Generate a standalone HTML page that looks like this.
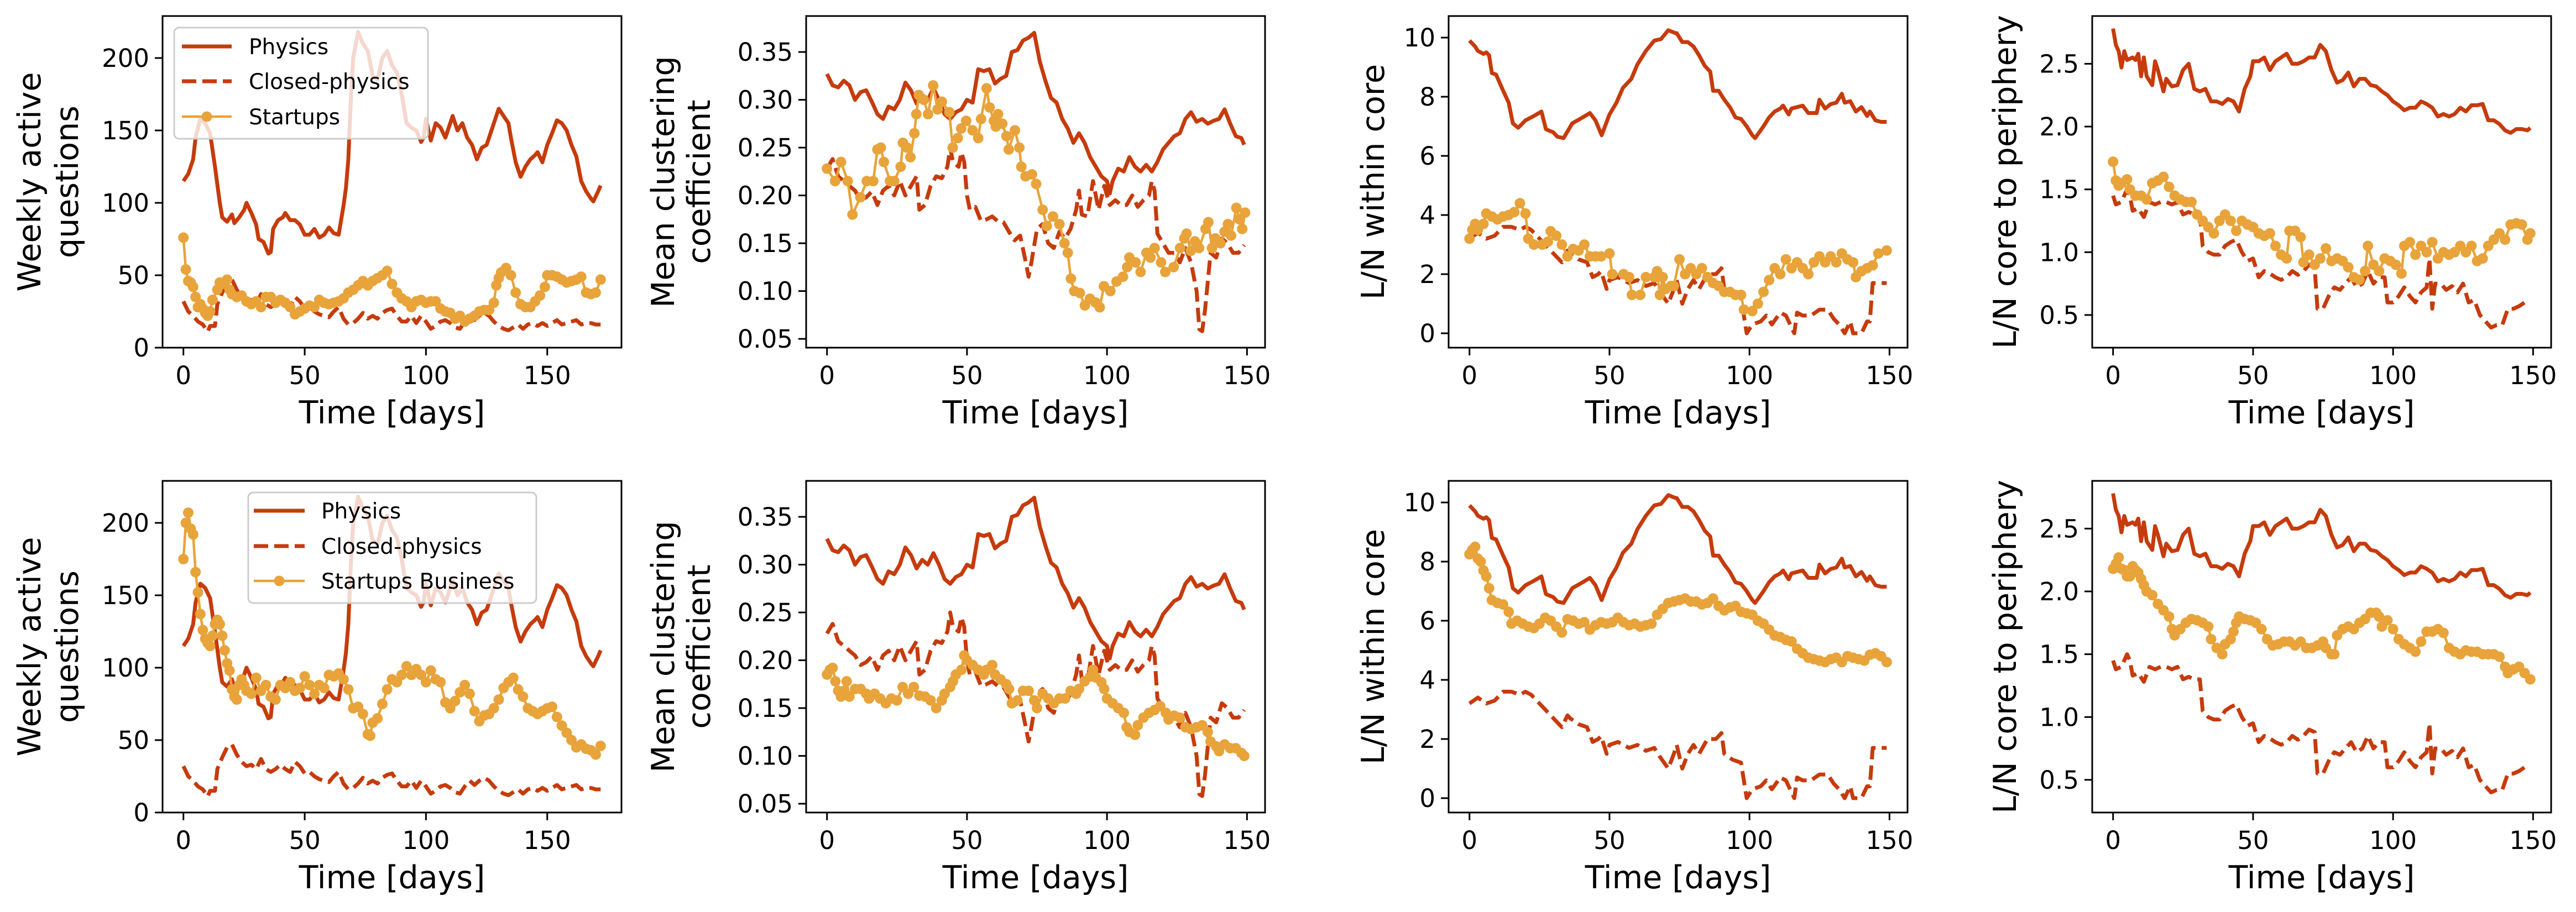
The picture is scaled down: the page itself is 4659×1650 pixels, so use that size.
<!DOCTYPE html>
<html><head><meta charset="utf-8"><title>Community metrics</title>
<style>
html,body{margin:0;padding:0;background:#fff;}
svg{display:block;}
text{font-family:"DejaVu Sans","Liberation Sans",sans-serif;fill:#000;}
</style></head>
<body>
<svg id="fig" width="4659" height="1650" viewBox="0 0 4659 1650" xmlns="http://www.w3.org/2000/svg"></svg>
<script>
// ---------- data: [day, value] pairs ----------
const qPhysics = [[0,115],[2,120],[4,130],[5,145],[7,158],[9,155],[11,148],[13,125],[15,100],[16,90],[18,87],[20,92],[21,86],[23,90],[25,95],[26,100],[28,93],[30,85],[31,75],[33,73],[35,65],[36,66],[37,82],[39,88],[41,90],[42,93],[44,88],[46,88],[48,85],[50,78],[52,78],[54,82],[56,76],[58,78],[60,83],[62,79],[64,78],[66,98],[67,110],[68,130],[69,170],[70,200],[72,218],[74,210],[76,205],[78,188],[80,185],[82,200],[84,205],[86,195],[88,190],[90,175],[92,155],[94,152],[96,150],[98,142],[99,145],[100,158],[102,143],[104,155],[106,152],[108,145],[110,155],[111,160],[113,150],[115,155],[117,145],[119,140],[121,130],[123,138],[125,140],[127,150],[129,160],[130,165],[132,160],[134,155],[135,145],[137,128],[139,118],[141,125],[143,130],[145,133],[146,135],[148,128],[150,140],[152,148],[154,157],[156,155],[158,150],[160,140],[162,132],[164,115],[166,108],[168,103],[169,101],[171,108],[172,112]];
const qClosed = [[0,32],[2,25],[4,22],[6,18],[8,16],[10,11],[11,15],[13,15],[14,30],[16,38],[18,45],[20,47],[22,40],[24,35],[26,32],[28,33],[30,30],[32,37],[34,30],[36,28],[38,30],[40,33],[42,30],[44,28],[46,35],[48,32],[50,27],[52,28],[54,25],[56,23],[58,22],[60,21],[62,25],[64,28],[66,20],[68,16],[70,17],[72,20],[74,24],[76,20],[78,22],[80,20],[82,24],[84,26],[86,27],[88,22],[90,18],[92,18],[94,22],[96,17],[98,22],[100,18],[102,13],[104,15],[106,18],[108,19],[110,17],[112,14],[114,13],[116,18],[118,22],[120,19],[122,22],[124,24],[126,22],[128,18],[130,15],[132,13],[134,12],[136,14],[138,16],[140,13],[142,16],[144,17],[146,15],[148,17],[150,15],[152,17],[154,19],[156,16],[158,17],[160,18],[162,19],[164,16],[166,17],[168,17],[170,16],[172,16]];
const qStartups = [[0,76],[1,54],[2,46],[3,45],[4,42],[5,35],[6,28],[7,30],[8,27],[9,24],[10,22],[11,25],[12,33],[14,40],[15,45],[16,44],[18,47],[19,40],[20,37],[22,35],[24,36],[26,32],[28,30],[30,32],[32,28],[34,35],[36,35],[38,31],[40,33],[42,31],[44,28],[46,23],[48,25],[50,27],[52,29],[54,28],[56,33],[58,31],[60,30],[62,31],[64,32],[66,34],[68,38],[70,40],[72,43],[74,46],[76,43],[78,46],[80,48],[82,50],[84,53],[86,44],[88,38],[90,34],[92,32],[94,28],[96,32],[98,33],[100,31],[102,32],[104,32],[106,27],[108,25],[110,24],[112,20],[114,22],[116,18],[118,20],[120,22],[122,25],[124,26],[126,26],[128,31],[129,43],[130,48],[131,52],[133,55],[135,50],[137,38],[139,30],[141,28],[143,28],[145,32],[147,36],[149,42],[150,50],[152,50],[154,49],[156,47],[158,45],[160,46],[162,47],[164,49],[166,38],[168,37],[170,38],[172,47]];
const qBusiness = [[0,175],[1,200],[2,207],[3,196],[4,192],[5,166],[6,152],[7,137],[8,126],[9,120],[10,117],[11,115],[12,122],[13,130],[14,133],[15,130],[16,122],[17,112],[18,103],[19,98],[20,85],[21,80],[22,78],[23,88],[24,92],[25,88],[26,84],[28,82],[30,93],[32,84],[34,88],[36,80],[38,78],[40,88],[42,86],[44,90],[46,84],[48,86],[50,94],[52,88],[54,82],[56,88],[58,86],[60,95],[62,94],[64,96],[66,92],[68,85],[70,72],[72,73],[74,68],[76,54],[77,53],[78,62],[80,65],[82,75],[84,85],[86,92],[88,90],[90,95],[92,101],[94,95],[96,99],[98,95],[100,90],[102,98],[104,92],[106,90],[108,76],[110,72],[112,77],[114,83],[116,88],[118,82],[120,70],[122,63],[124,67],[126,68],[128,72],[130,78],[132,86],[134,90],[136,93],[138,85],[140,80],[142,72],[144,70],[146,68],[148,70],[150,72],[152,73],[154,66],[156,60],[158,55],[160,50],[162,45],[164,47],[166,44],[168,43],[170,40],[172,46]];

const cPhysics = [[0,0.327],[2,0.315],[4,0.313],[6,0.32],[8,0.315],[10,0.30],[12,0.308],[14,0.31],[16,0.298],[18,0.285],[20,0.28],[22,0.293],[24,0.29],[26,0.30],[28,0.318],[30,0.31],[32,0.296],[34,0.305],[36,0.30],[38,0.312],[40,0.30],[42,0.285],[44,0.28],[46,0.287],[48,0.29],[50,0.30],[52,0.297],[54,0.332],[56,0.33],[58,0.332],[60,0.317],[62,0.322],[64,0.325],[66,0.35],[68,0.352],[70,0.362],[72,0.365],[74,0.37],[76,0.34],[78,0.32],[80,0.302],[82,0.297],[84,0.28],[86,0.27],[88,0.255],[90,0.265],[92,0.255],[94,0.24],[96,0.23],[98,0.22],[100,0.215],[101,0.202],[102,0.215],[104,0.228],[106,0.225],[108,0.24],[110,0.23],[112,0.225],[114,0.232],[116,0.225],[118,0.235],[120,0.248],[122,0.255],[124,0.262],[126,0.265],[128,0.28],[130,0.287],[132,0.277],[134,0.28],[136,0.275],[138,0.278],[140,0.28],[142,0.29],[144,0.275],[146,0.262],[148,0.26],[149,0.253]];
const cClosed = [[0,0.228],[2,0.238],[4,0.22],[6,0.215],[8,0.21],[10,0.205],[12,0.195],[14,0.198],[16,0.204],[18,0.19],[20,0.205],[22,0.21],[24,0.20],[26,0.215],[28,0.20],[30,0.21],[32,0.22],[33,0.185],[35,0.19],[37,0.21],[39,0.22],[41,0.218],[43,0.23],[44,0.25],[45,0.235],[47,0.23],[48,0.245],[49,0.235],[50,0.20],[51,0.185],[53,0.188],[55,0.173],[57,0.175],[59,0.178],[61,0.173],[63,0.172],[65,0.162],[67,0.153],[69,0.158],[71,0.13],[72,0.115],[73,0.13],[75,0.165],[77,0.17],[79,0.15],[81,0.145],[83,0.162],[85,0.155],[87,0.165],[89,0.185],[90,0.205],[91,0.18],[93,0.178],[95,0.215],[97,0.185],[99,0.21],[101,0.19],[103,0.195],[105,0.19],[107,0.19],[109,0.2],[111,0.188],[113,0.195],[115,0.2],[116,0.215],[117,0.205],[118,0.16],[120,0.15],[122,0.14],[124,0.14],[126,0.13],[128,0.145],[130,0.13],[132,0.1],[133,0.06],[134,0.058],[135,0.08],[137,0.14],[139,0.135],[141,0.155],[143,0.15],[145,0.14],[147,0.14],[149,0.148]];
const cStartups = [[0,0.228],[2.9,0.215],[5,0.235],[7.4,0.215],[9.1,0.18],[11.9,0.198],[14.2,0.215],[16.5,0.215],[18,0.248],[19.2,0.25],[20.3,0.235],[22.5,0.215],[24,0.215],[26.3,0.23],[27.1,0.255],[28.6,0.25],[29.8,0.24],[31.2,0.265],[31.9,0.285],[32.8,0.305],[34.6,0.30],[36.1,0.285],[37.9,0.315],[39.5,0.29],[41,0.298],[43.7,0.287],[44.9,0.25],[46.7,0.26],[47.9,0.27],[49.7,0.278],[52,0.268],[54,0.26],[55,0.28],[57,0.312],[58.1,0.292],[59.6,0.278],[60.3,0.272],[61.1,0.285],[62.6,0.275],[64.1,0.262],[64.9,0.248],[67.1,0.268],[68.7,0.25],[69.4,0.23],[70.9,0.22],[73.2,0.222],[74.7,0.212],[77,0.185],[78.5,0.168],[80.7,0.178],[83,0.17],[84.8,0.15],[86,0.14],[87.1,0.113],[88.3,0.10],[90.3,0.098],[92.1,0.085],[93.9,0.092],[95.9,0.088],[97.4,0.083],[98.9,0.105],[101.2,0.10],[103.4,0.11],[105.7,0.115],[107.2,0.125],[108,0.135],[110.2,0.13],[112,0.12],[114.1,0.14],[115.5,0.135],[117,0.145],[119.3,0.13],[120.8,0.12],[123.8,0.125],[126.1,0.145],[127.6,0.155],[128.4,0.16],[129.9,0.142],[131.4,0.152],[132.9,0.145],[135.2,0.165],[136.2,0.172],[137.5,0.145],[138.7,0.155],[140.5,0.15],[142,0.162],[143.2,0.17],[144.3,0.158],[146.2,0.187],[147.3,0.175],[148.3,0.165],[149.3,0.182]];
const cBusiness = [[0,0.185],[1,0.19],[2,0.192],[3,0.178],[4,0.168],[5,0.162],[6,0.168],[7,0.178],[8,0.162],[10,0.17],[12,0.17],[14,0.165],[15,0.16],[17,0.165],[19,0.16],[21,0.155],[23,0.16],[25,0.158],[27,0.172],[29,0.165],[31,0.172],[33,0.163],[35,0.162],[37,0.158],[39,0.15],[41,0.158],[42,0.165],[44,0.172],[45,0.178],[46,0.185],[48,0.19],[49,0.205],[50,0.2],[52,0.195],[54,0.19],[56,0.185],[57,0.19],[59,0.195],[60,0.185],[62,0.18],[64,0.175],[65,0.17],[66,0.155],[68,0.158],[70,0.168],[72,0.168],[74,0.158],[75,0.15],[77,0.165],[79,0.16],[81,0.155],[83,0.16],[85,0.16],[87,0.168],[89,0.165],[90,0.17],[92,0.178],[94,0.183],[95,0.19],[96,0.182],[98,0.177],[99,0.17],[100,0.16],[102,0.155],[104,0.15],[106,0.145],[107,0.13],[108,0.125],[110,0.122],[111,0.132],[113,0.14],[115,0.145],[117,0.148],[119,0.152],[121,0.145],[122,0.138],[124,0.142],[126,0.14],[128,0.13],[130,0.128],[132,0.13],[134,0.132],[136,0.125],[137,0.115],[139,0.11],[140,0.105],[142,0.112],[144,0.108],[146,0.108],[148,0.103],[149,0.1]];

const kPhysics = [[0,9.9],[2,9.7],[3,9.55],[5,9.45],[6,9.5],[7,9.4],[8,8.8],[9.5,8.75],[11.8,8.25],[14,7.8],[15.5,7.1],[17.4,6.95],[20,7.2],[23,7.35],[25.7,7.5],[27.3,6.9],[29.9,6.8],[31.4,6.65],[33.6,6.6],[36.7,7.1],[40.4,7.3],[43,7.45],[45,7.2],[47.2,6.7],[50,7.4],[52.5,7.8],[54.8,8.3],[57.8,8.6],[60,9.1],[63,9.55],[66,9.9],[68.4,9.95],[71,10.25],[73.6,10.15],[74,10.15],[76,9.85],[78,9.85],[80,9.7],[82,9.4],[84,9.05],[86,8.85],[87,8.2],[89,8.2],[91,7.9],[93,7.65],[95,7.3],[97,7.25],[99,7.0],[101,6.7],[102,6.6],[105,7.0],[107,7.3],[109,7.5],[111,7.6],[112,7.7],[114,7.4],[115,7.6],[117,7.65],[119,7.7],[121,7.45],[124,7.45],[125,7.9],[127,7.6],[129,7.75],[131,7.8],[133,8.1],[134,7.8],[136,7.85],[138,7.5],[140,7.65],[141,7.5],[142,7.35],[143,7.5],[145,7.2],[147,7.15],[149,7.15]];
const kClosed = [[0,3.2],[3,3.4],[6,3.2],[9,3.3],[12,3.6],[15,3.6],[18,3.5],[20,3.6],[22,3.5],[24,3.3],[27,3.0],[30,2.7],[33,2.4],[35,2.8],[36,2.7],[39,2.5],[42,2.4],[44,1.9],[46,2.0],[47,2.1],[49,1.5],[50,1.8],[53,1.9],[57,1.7],[60,1.8],[63,1.6],[66,1.7],[68,1.4],[71,1.0],[73,1.5],[74,1.8],[76,1.0],[78,1.5],[80,1.8],[82,1.5],[85,2.0],[88,2.0],[90,2.2],[91,1.5],[94,1.3],[97,1.2],[98.5,0.3],[99,0.0],[101,0.3],[104,0.4],[106,0.6],[108,0.3],[111,0.7],[113,0.6],[116,0.0],[117,0.7],[119,0.6],[122,0.6],[125,0.8],[128,0.8],[130,0.5],[132,0.3],[134,0.0],[136,0.4],[137,0.0],[140,0.0],[142,0.4],[143,0.4],[144,1.7],[149,1.7]];
const kStartups = [[0,3.2],[1,3.5],[2,3.7],[3,3.5],[5,3.7],[6,4.05],[8,3.95],[10,3.85],[12,3.95],[14,4.0],[16,4.1],[18,4.4],[20,4.05],[21,3.2],[23,3.0],[26,3.0],[28,3.1],[29,3.45],[31,3.3],[33,3.0],[35,2.6],[37,2.85],[39,2.8],[41,3.0],[43,2.6],[45,2.6],[47,2.6],[50,2.7],[51,2.0],[55,2.0],[57,1.9],[58,1.3],[61,1.3],[63,1.9],[66,1.9],[67,2.1],[68,1.3],[69,1.9],[70,1.5],[72,1.6],[73,1.6],[75,2.5],[77,2.0],[79,2.2],[81,2.0],[83,2.2],[85,1.9],[87,1.7],[89,1.6],[91,1.4],[93,1.4],[95,1.3],[97,1.3],[98,0.8],[101,0.75],[103,1.0],[105,1.4],[107,1.8],[109,2.2],[111,2.0],[113,2.5],[115,2.2],[117,2.4],[119,2.2],[121,2.0],[123,2.4],[125,2.6],[127,2.4],[129,2.6],[131,2.4],[133,2.7],[135,2.5],[137,2.4],[138,1.9],[140,2.1],[142,2.2],[144,2.3],[146,2.7],[149,2.8]];
const kBusiness = [[0,8.25],[1,8.4],[2,8.5],[3,8.1],[4,8.0],[5,7.7],[6,7.5],[7,7.1],[8,6.7],[10,6.6],[12,6.55],[14,6.3],[15,5.9],[17,6.0],[19,5.9],[21,5.8],[23,5.75],[25,5.9],[27,6.1],[29,6.0],[31,5.8],[33,5.6],[35,6.05],[37,6.0],[39,5.9],[41,5.95],[43,5.7],[45,5.85],[47,5.95],[49,5.9],[51,5.95],[53,6.1],[55,5.95],[57,5.85],[59,5.9],[61,5.8],[63,5.85],[65,5.9],[67,6.2],[69,6.4],[71,6.6],[73,6.65],[75,6.7],[77,6.75],[79,6.65],[81,6.65],[83,6.55],[85,6.6],[87,6.75],[89,6.5],[91,6.35],[93,6.45],[95,6.5],[97,6.3],[99,6.25],[101,6.2],[103,6.0],[105,5.9],[107,5.7],[109,5.5],[111,5.45],[113,5.35],[115,5.3],[117,5.05],[119,4.9],[121,4.75],[123,4.7],[125,4.65],[127,4.6],[129,4.7],[131,4.75],[133,4.6],[135,4.8],[137,4.75],[139,4.7],[141,4.65],[143,4.85],[145,4.9],[147,4.8],[149,4.6]];

const pPhysics = [[0,2.78],[1,2.65],[2,2.6],[3,2.47],[4,2.6],[5,2.53],[7,2.55],[8,2.53],[9,2.58],[10,2.4],[11,2.55],[12,2.4],[14,2.33],[15,2.52],[16,2.45],[18,2.28],[19,2.38],[21,2.32],[23,2.33],[25,2.45],[27,2.5],[29,2.3],[31,2.28],[33,2.3],[35,2.2],[37,2.2],[39,2.18],[41,2.22],[43,2.2],[45,2.12],[47,2.3],[49,2.4],[50,2.52],[52,2.52],[54,2.55],[56,2.45],[58,2.52],[60,2.55],[62,2.58],[64,2.5],[66,2.5],[68,2.52],[70,2.55],[72,2.55],[74,2.65],[76,2.6],[78,2.45],[80,2.35],[82,2.37],[84,2.43],[86,2.32],[88,2.38],[90,2.38],[92,2.33],[94,2.32],[96,2.28],[98,2.25],[100,2.2],[102,2.17],[104,2.13],[106,2.15],[108,2.15],[110,2.2],[112,2.18],[114,2.15],[116,2.08],[118,2.1],[120,2.08],[122,2.1],[124,2.15],[126,2.12],[128,2.17],[130,2.17],[132,2.18],[134,2.05],[136,2.05],[138,2.02],[140,1.97],[142,1.95],[144,1.98],[146,1.98],[148,1.97],[149,1.99]];
const pClosed = [[0,1.45],[1,1.38],[3,1.4],[5,1.5],[6,1.45],[7,1.33],[9,1.35],[11,1.28],[13,1.4],[15,1.38],[17,1.4],[19,1.4],[21,1.38],[23,1.4],[25,1.3],[27,1.32],[29,1.3],[31,1.3],[32,1.05],[34,1.0],[36,0.98],[38,0.98],[40,1.05],[42,1.08],[44,1.1],[46,1.0],[48,0.93],[50,0.95],[52,0.8],[54,0.85],[56,0.83],[58,0.8],[60,0.78],[62,0.8],[64,0.85],[66,0.82],[68,0.85],[70,0.9],[72,0.88],[73,0.55],[75,0.55],[77,0.65],[79,0.72],[81,0.7],[83,0.75],[85,0.8],[87,0.72],[89,0.75],[91,0.85],[93,0.75],[95,0.8],[97,0.8],[98,0.6],[100,0.6],[102,0.65],[104,0.72],[106,0.65],[108,0.6],[110,0.68],[112,0.72],[113,0.95],[114,0.55],[115,0.75],[117,0.75],[119,0.7],[121,0.73],[123,0.68],[125,0.75],[127,0.6],[129,0.62],[131,0.5],[133,0.45],[135,0.4],[137,0.42],[139,0.42],[141,0.55],[143,0.55],[145,0.57],[147,0.6]];
const pStartups = [[0,1.72],[1,1.57],[2,1.53],[3,1.55],[5,1.58],[6,1.5],[8,1.45],[10,1.45],[12,1.42],[14,1.55],[16,1.57],[18,1.6],[20,1.52],[22,1.45],[24,1.42],[26,1.4],[28,1.4],[30,1.3],[32,1.25],[34,1.2],[36,1.15],[38,1.25],[40,1.3],[42,1.25],[44,1.17],[46,1.25],[48,1.22],[50,1.2],[52,1.15],[54,1.13],[56,1.15],[58,1.05],[60,0.98],[62,0.95],[63,1.17],[65,1.17],[67,1.12],[68,0.92],[70,0.98],[72,0.9],[74,0.95],[76,1.03],[78,0.93],[80,0.95],[82,0.93],[84,0.88],[86,0.8],[88,0.78],[90,0.85],[91,1.05],[93,0.9],[95,0.85],[97,0.95],[99,0.93],[101,0.9],[103,0.83],[104,1.05],[106,1.08],[108,0.98],[110,1.05],[112,1.0],[114,1.08],[116,0.95],[118,1.0],[120,0.98],[122,1.0],[124,1.05],[126,1.0],[128,1.05],[130,0.93],[132,0.95],[134,1.05],[136,1.1],[138,1.15],[140,1.1],[142,1.22],[144,1.23],[146,1.22],[148,1.1],[149,1.15]];
const pBusiness = [[0,2.18],[1,2.22],[2,2.27],[3,2.18],[4,2.17],[5,2.12],[6,2.12],[7,2.2],[8,2.17],[9,2.15],[10,2.1],[11,2.05],[12,2.0],[14,1.97],[16,1.9],[18,1.85],[20,1.8],[21,1.7],[22,1.65],[24,1.7],[26,1.75],[28,1.78],[30,1.77],[32,1.75],[34,1.72],[35,1.62],[37,1.55],[39,1.5],[40,1.58],[42,1.62],[43,1.68],[44,1.75],[45,1.8],[47,1.78],[49,1.77],[51,1.75],[53,1.7],[55,1.62],[57,1.57],[59,1.58],[61,1.6],[63,1.6],[65,1.57],[67,1.6],[69,1.55],[71,1.55],[73,1.57],[75,1.6],[76,1.55],[78,1.5],[79,1.5],[80,1.65],[82,1.7],[84,1.72],[86,1.7],[88,1.75],[90,1.78],[92,1.83],[94,1.83],[95,1.8],[96,1.72],[98,1.77],[100,1.7],[102,1.62],[104,1.58],[106,1.55],[108,1.52],[110,1.6],[112,1.68],[114,1.68],[116,1.7],[118,1.67],[120,1.55],[122,1.52],[124,1.5],[126,1.53],[128,1.52],[130,1.52],[132,1.5],[134,1.5],[136,1.5],[138,1.48],[140,1.4],[141,1.35],[143,1.38],[145,1.4],[147,1.35],[149,1.3]];

const xTicks = [0, 50, 100, 150];
const qTicks = [0, 50, 100, 150, 200];
const cTicks = [0.05, 0.10, 0.15, 0.20, 0.25, 0.30, 0.35];
const kTicks = [0, 2, 4, 6, 8, 10];
const pTicks = [0.5, 1.0, 1.5, 2.0, 2.5];
const legendTop = ["Physics", "Closed-physics", "Startups"];
const legendBottom = ["Physics", "Closed-physics", "Startups Business"];

// ---------- rendering ----------
const NS = "http://www.w3.org/2000/svg";
const svg = document.getElementById('fig');
const RED = '#c63b0c', ORANGE = '#e8a33a';
function mk(tag, attrs, parent) {
  const e = document.createElementNS(NS, tag);
  for (const k in attrs) e.setAttribute(k, attrs[k]);
  (parent || svg).appendChild(e);
  return e;
}
const colX = [294, 1458, 2620, 3784];
const rowY = [29, 870];
const W = 830, H = 600;

const panels = [
  {key: 'questions', xlim: [-8.6, 180.6], ylim: [0, 229], yt: qTicks, fmt: v => String(v), ylab: ['Weekly active', 'questions'], labX: [54, 122], top: [qPhysics, qClosed, qStartups], bot: [qPhysics, qClosed, qBusiness]},
  {key: 'clustering', xlim: [-7.45, 156.45], ylim: [0.0408, 0.3876], yt: cTicks, fmt: v => v.toFixed(2), ylab: ['Mean clustering', 'coefficient'], labX: [1200, 1265], top: [cPhysics, cClosed, cStartups], bot: [cPhysics, cClosed, cBusiness]},
  {key: 'within-core', xlim: [-7.45, 156.45], ylim: [-0.486, 10.73], yt: kTicks, fmt: v => String(v), ylab: ['L/N within core'], labX: [2484], top: [kPhysics, kClosed, kStartups], bot: [kPhysics, kClosed, kBusiness]},
  {key: 'core-periphery', xlim: [-7.45, 156.45], ylim: [0.24, 2.88], yt: pTicks, fmt: v => v.toFixed(1), ylab: ['L/N core to periphery'], labX: [3627], top: [pPhysics, pClosed, pStartups], bot: [pPhysics, pClosed, pBusiness]}
];

rowY.forEach((y0, r) => {
  panels.forEach((p, c) => {
    const x0 = colX[c];
    const g = mk('g', {});
    
    
    const sx = v => x0 + (v - p.xlim[0]) / (p.xlim[1] - p.xlim[0]) * W;
    const sy = v => y0 + H - (v - p.ylim[0]) / (p.ylim[1] - p.ylim[0]) * H;
    const clipId = 'clip' + r + c;
    const cp = mk('clipPath', {id: clipId}, g);
    mk('rect', {x: x0, y: y0, width: W, height: H}, cp);
    const series = r ? p.bot : p.top;
    const names = ['physics', 'closed-physics', r ? 'startups-business' : 'startups'];
    series.forEach((data, si) => {
      const d = data.map((pt, i) => (i ? 'L' : 'M') + sx(pt[0]).toFixed(1) + ' ' + sy(pt[1]).toFixed(1)).join('');
      const attrs = {d: d, fill: 'none', 'clip-path': 'url(#' + clipId + ')', 'stroke-linejoin': 'round'};
      if (si === 0) { attrs.stroke = RED; attrs['stroke-width'] = 7; }
      else if (si === 1) { attrs.stroke = RED; attrs['stroke-width'] = 7; attrs['stroke-dasharray'] = '26 11'; }
      else { attrs.stroke = ORANGE; attrs['stroke-width'] = 4.5; }
      const path = mk('path', attrs, g);
      
      
      if (si === 2) {
        const mg = mk('g', {fill: ORANGE}, g);
        
        
        data.forEach(pt => {
          const m = mk('circle', {cx: sx(pt[0]).toFixed(1), cy: sy(pt[1]).toFixed(1), r: 9.5}, mg);
          
          
        });
      }
    });
    // frame
    const fr = mk('rect', {x: x0, y: y0, width: W, height: H, fill: 'none', stroke: '#000', 'stroke-width': 3}, g);
    
    
    // x ticks
    xTicks.forEach(t => {
      const x = sx(t);
      mk('line', {x1: x, x2: x, y1: y0 + H, y2: y0 + H + 14, stroke: '#000', 'stroke-width': 3}, g);
      const tl = mk('text', {x: x, y: y0 + H + 66, 'font-size': 45, 'text-anchor': 'middle'}, g);
      tl.textContent = t;
      
      
    });
    // y ticks
    p.yt.forEach(t => {
      const y = sy(t);
      mk('line', {x1: x0 - 14, x2: x0, y1: y, y2: y, stroke: '#000', 'stroke-width': 3}, g);
      const tl = mk('text', {x: x0 - 24, y: y + 16, 'font-size': 45, 'text-anchor': 'end'}, g);
      tl.textContent = p.fmt(t);
      
      
    });
    // x label
    const xl = mk('text', {x: x0 + W / 2, y: y0 + H + 137, 'font-size': 57, 'text-anchor': 'middle'}, g);
    xl.textContent = 'Time [days]';
    
    
    // y label
    const yc = y0 + H / 2;
    p.ylab.forEach((line, li) => {
      const lx = p.labX[li];
      const yl = mk('text', {x: lx, y: yc, 'font-size': 57, 'text-anchor': 'middle', 'dominant-baseline': 'central', transform: 'rotate(-90 ' + lx + ' ' + yc + ')'}, g);
      yl.textContent = line;
      
      
    });
  });
});

// legends
function legend(bx, by, bw, bh, rows, hx1, hx2, tx, labels) {
  const g = mk('g', {});
  
  
  mk('rect', {x: bx, y: by, width: bw, height: bh, rx: 9, fill: '#fff', 'fill-opacity': 0.8, stroke: '#cccccc', 'stroke-width': 3}, g);
  labels.forEach((lab, i) => {
    const y = rows[i];
    const a = {x1: hx1, x2: hx2, y1: y, y2: y, stroke: i < 2 ? RED : ORANGE, 'stroke-width': i < 2 ? 7 : 4.5};
    if (i === 1) a['stroke-dasharray'] = '26 11';
    const h = mk('line', a, g);
    
    
    if (i === 2) mk('circle', {cx: (hx1 + hx2) / 2, cy: y, r: 9.5, fill: ORANGE}, g);
    const t = mk('text', {x: tx, y: y + 14, 'font-size': 39}, g);
    t.textContent = lab;
    
    
  });
}
legend(315, 50, 459, 201, [84, 147, 211], 329, 419, 450, legendTop);
legend(449, 891, 521, 200, [924, 988, 1051], 459, 551, 581, legendBottom);
</script>
</body></html>
